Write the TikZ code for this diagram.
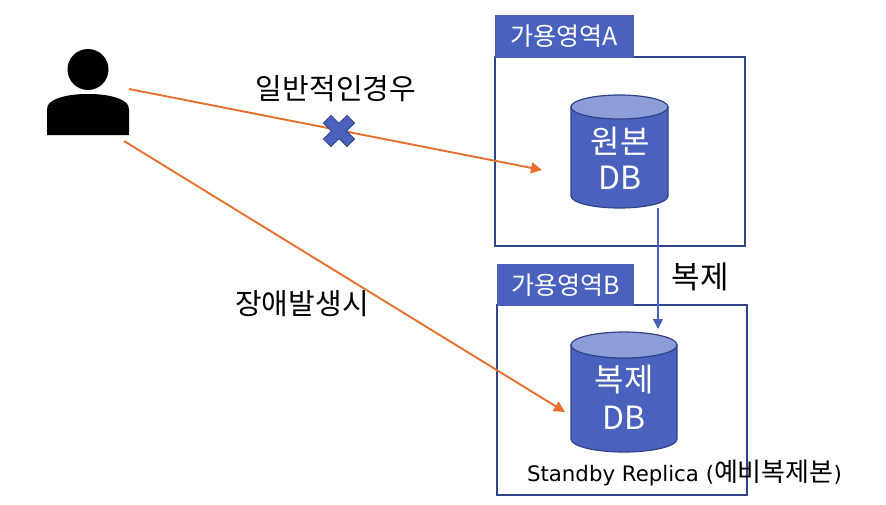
\documentclass[tikz,border=0pt]{standalone}
\usepackage{fontspec}
\setmainfont{Noto Sans CJK KR}
\newfontfamily\latinf{DejaVu Sans}
\usetikzlibrary{arrows.meta}
\definecolor{accent}{HTML}{4A62BD}
\definecolor{edge}{HTML}{2F4488}
\definecolor{lid}{HTML}{8C9DD8}
\definecolor{flow}{HTML}{E8702F}
\tikzset{
  zone/.style={draw=edge,line width=2pt,fill=none,minimum width=250pt,minimum height=189pt,inner sep=0pt,outer sep=0pt,anchor=north west},
  tabbox/.style={fill=accent,text=white,inner sep=0pt,outer sep=0pt,anchor=north west,font=\fontsize{25}{28}\selectfont},
  dbbody/.style={fill=accent,draw=edge,line width=1.2pt},
  dblid/.style={fill=lid,draw=edge,line width=1.2pt},
  dbtext/.style={text=white,align=center,font=\fontsize{32}{36}\selectfont},
  flowline/.style={draw=flow,line width=1.9pt,-{Triangle[length=11pt,width=11pt]}},
  copyline/.style={draw=accent,line width=1.5pt,-{Triangle[length=10pt,width=10pt]}},
  lbl/.style={text=black,font=\fontsize{29}{33}\selectfont},
}
\begin{document}
\begin{tikzpicture}[x=1pt,y=-1pt]
\useasboundingbox (0,0) rectangle (886,504);
\fill[white] (0,0) rectangle (886,504);
% person
\node[circle,fill=black,minimum size=41pt,inner sep=0pt] (head) at (88,69.5) {};
\fill[black] (47,135) -- (47,110) .. controls (47,104) and (50,102) .. (56,99) .. controls (66,95) and (77,94) .. (88,94) .. controls (99,94) and (110,95) .. (120,99) .. controls (126,102) and (129,104) .. (129,110) -- (129,135) -- cycle;
\coordinate (userA) at (129,89);
\coordinate (userB) at (124,141);
% zones
\node[zone] (zoneA) at (495,57) {};
\node[tabbox,minimum width=139pt,minimum height=43pt] (tabA) at (495,15) {\raisebox{-1pt}{가용영역A}};
\node[zone,minimum height=190pt] (zoneB) at (497,305) {};
\node[tabbox,minimum width=137pt,minimum height=42pt] (tabB) at (497,264) {\raisebox{-1pt}{가용영역B}};
% DB A
\path[dbbody] (571,107) -- (571,196) arc[start angle=180,end angle=360,x radius=48.5,y radius=-12] -- (668,107) -- cycle;
\path[dblid] (619.5,107) ellipse[x radius=48.5,y radius=12];
\node[dbtext] (dbA) at (620,158) {원본\\DB};
% DB B
\path[dbbody] (571,345) -- (571,439) arc[start angle=180,end angle=360,x radius=53,y radius=-13] -- (677,345) -- cycle;
\path[dblid] (624,345) ellipse[x radius=53,y radius=13];
\node[dbtext,font=\fontsize{32}{38}\selectfont] (dbB) at (624,397) {복제\\DB};
% connectors
\coordinate (ontoA) at (542,170);
\coordinate (ontoB) at (565,412);
\coordinate (copyFrom) at (658,208);
\coordinate (copyTo) at (658,329);
\draw[flowline] (userA) -- (ontoA);
\draw[flowline] (userB) -- (ontoB);
\draw[copyline] (copyFrom) -- (copyTo);
% blocked mark
\node[inner sep=0pt,minimum size=0pt] (block) at (339,131) {};
\path[fill=accent,draw=edge,line width=0.8pt,shift={(block)}] (-8,-15.5) -- (0,-7.5) -- (8,-15.5) -- (15.5,-8) -- (7.5,0) -- (15.5,8) -- (8,15.5) -- (0,7.5) -- (-8,15.5) -- (-15.5,8) -- (-7.5,0) -- (-15.5,-8) -- cycle;
% labels
\node[lbl] (normal) at (336,88.5) {일반적인경우};
\node[lbl] (fail) at (302,304) {장애발생시};
\node[lbl,font=\fontsize{31}{35}\selectfont] (copy) at (700,277) {복제};
\node[text=black,font=\fontsize{26}{30}\selectfont] (standby) at (684.5,473) {{\latinf\fontsize{21.3}{30}\selectfont Standby Replica (}예비복제본{\latinf\fontsize{21.3}{30}\selectfont )}};
\end{tikzpicture}
\end{document}
